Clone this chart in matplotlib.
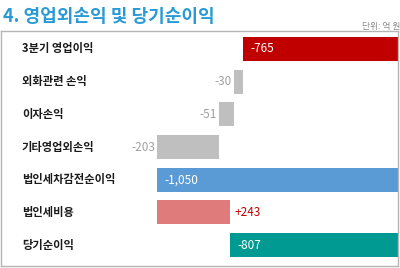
import numpy as np
import matplotlib.pyplot as plt
from matplotlib.transforms import blended_transform_factory

plt.rcParams['font.family'] = ['Noto Sans CJK KR', 'DejaVu Sans']

categories = ['3분기 영업이익', '외화관련 손익', '이자손익', '기타영업외손익',
              '법인세차감전순이익', '법인세비용', '당기순이익']
values = [-765, -30, -51, -203, -1050, 243, -807]
labels = ['-765', '-30', '-51', '-203', '-1,050', '+243', '-807']
is_total = [True, False, False, False, True, False, True]
colors = ['#c00000', '#bfbfbf', '#bfbfbf', '#bfbfbf', '#5b9bd5', '#e07b7b', '#009a93']

# waterfall starts
starts = []
running = 0
for v, t in zip(values, is_total):
    if t:
        starts.append(0)
        running = v
    else:
        starts.append(running)
        running += v

fig = plt.figure(figsize=(4, 2.68), dpi=100)
ax = fig.add_axes([1 / 400, 2 / 268, 397 / 400, 235 / 268])

y = np.arange(len(categories))
ax.barh(y, values, left=starts, height=0.74, color=colors)
ax.set_xlim(-1566, -252)
ax.set_ylim(6.64, -0.55)
ax.set_xticks([])
ax.set_yticks([])
for s in ax.spines.values():
    s.set_color('#b5b5b5')
    s.set_linewidth(1)

tr = blended_transform_factory(ax.transAxes, ax.transData)
for i, c in enumerate(categories):
    ax.text(21 / 397, i, c, transform=tr, ha='left', va='center',
            fontsize=8.1, fontweight='bold', color='#1a1a1a')

for i, (v, s, lab, t) in enumerate(zip(values, starts, labels, is_total)):
    end = s + v
    if t:
        ax.text(end + 25, i, lab, ha='left', va='center', fontsize=8.5, color='white')
    elif v > 0:
        ax.text(end + 15, i, lab, ha='left', va='center', fontsize=8.5, color='#c00000')
    else:
        ax.text(end - 6, i, lab, ha='right', va='center', fontsize=8.5, color='#a0a0a0')

fig.text(3 / 400, 1 - 17 / 268, '4. 영업외손익 및 당기순이익', ha='left', va='center',
         fontsize=13, fontweight='bold', color='#2a9ad6')
fig.text(362 / 400, 1 - 26 / 268, '단위: 억 원', ha='left', va='center',
         fontsize=6.3, color='#8a8a8a')

fig.savefig('out.png', dpi=100)
